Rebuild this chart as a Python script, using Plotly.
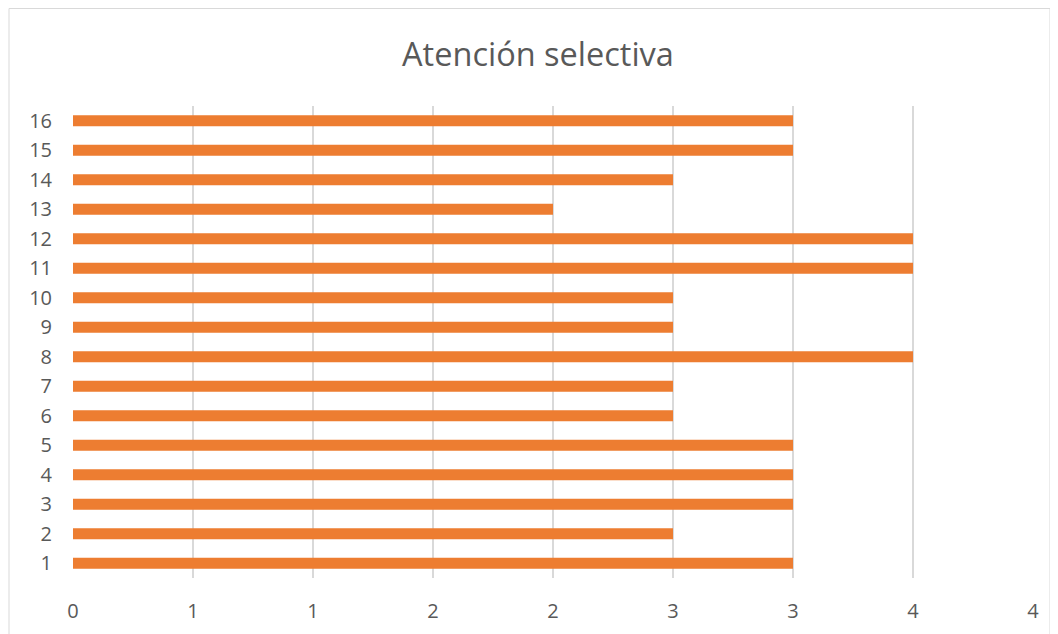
import plotly.graph_objects as go

categories = [str(i) for i in range(1, 17)]
values = [3, 2.5, 3, 3, 3, 2.5, 2.5, 3.5, 2.5, 2.5, 3.5, 3.5, 2, 2.5, 3, 3]
x_tickvals = [0, 0.5, 1, 1.5, 2, 2.5, 3, 3.5, 4]
x_ticktext = ["0", "1", "1", "2", "2", "3", "3", "4", "4"]
title_text = "Atención selectiva"

# page is offset by the browser's 8px body margin
OFF = 8
W, H = 1058, 634
L, T = 73 - OFF, 106 - OFF
pw, ph = 960, 472
R = W - L - pw
B = H - T - ph

def px_x(p):
    return (p - OFF - L) / pw

def px_y(p):
    return (T + ph - (p - OFF)) / ph

fig = go.Figure(go.Bar(
    y=categories, x=values, orientation="h",
    marker=dict(color="#ED7D31", line=dict(width=0)),
    width=0.37,
))

FONT = "Open Sans, Liberation Sans, sans-serif"
fig.update_layout(
    width=W, height=H,
    margin=dict(l=L, r=R, t=T, b=B),
    paper_bgcolor="white", plot_bgcolor="white",
    showlegend=False,
    title=dict(text=title_text, x=(538 - OFF) / W, xref="container", xanchor="center",
               y=1 - (55 - OFF) / H, yref="container", yanchor="middle",
               font=dict(family=FONT, size=32.5, color="#595959")),
    font=dict(family=FONT, size=20, color="#595959"),
    xaxis=dict(range=[0, 4], tickvals=x_tickvals, ticktext=x_ticktext,
               showgrid=True, gridcolor="#d9d9d9", gridwidth=1.5,
               zeroline=False, showline=False, ticks="", ticklabelstandoff=19,
               tickfont=dict(size=20, color="#595959")),
    yaxis=dict(type="category", categoryorder="array", categoryarray=categories,
               range=[-0.5, 15.5], showgrid=False, zeroline=False, showline=False,
               ticks="", ticklabelstandoff=20,
               tickfont=dict(size=20, color="#595959")),
    shapes=[dict(type="rect", xref="paper", yref="paper",
                 x0=px_x(9), x1=px_x(1050), y0=px_y(660), y1=px_y(8.5),
                 line=dict(color="#d9d9d9", width=1), layer="below")],
)

fig.write_html("out.html")
